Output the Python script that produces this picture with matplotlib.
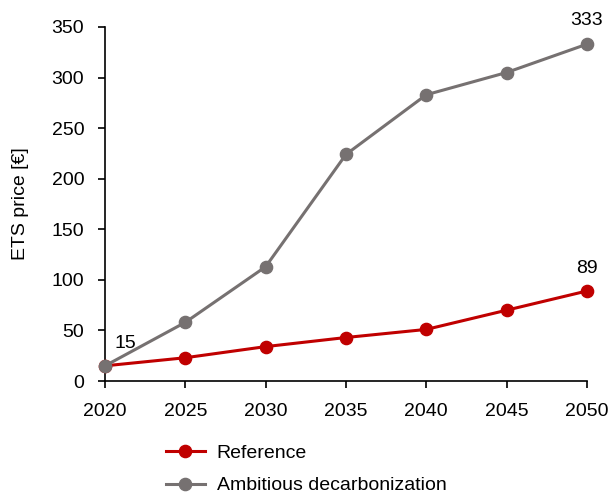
import matplotlib.pyplot as plt

plt.rcParams['font.family'] = ['Liberation Sans', 'DejaVu Sans']

years = [2020, 2025, 2030, 2035, 2040, 2045, 2050]
reference = [15, 23, 34, 43, 51, 70, 89]
ambitious = [15, 58, 113, 224, 283, 305, 333]

fig = plt.figure(figsize=(6.12, 4.97), dpi=100)
ax = fig.add_axes([0.1716, 0.2334, 0.7874, 0.7123])

ax.plot(years, reference, color='#C00000', lw=2.2, marker='o', ms=8.8,
        label='Reference', clip_on=False, zorder=3)
ax.plot(years, ambitious, color='#767171', lw=2.2, marker='o', ms=8.8,
        label='Ambitious decarbonization', clip_on=False, zorder=4)

ax.annotate(str(reference[0]), (years[0], reference[0]), xytext=(7, 13),
            textcoords='offset points', fontsize=14, ha='left', va='baseline')
ax.annotate(str(reference[-1]), (years[-1], reference[-1]), xytext=(0, 13),
            textcoords='offset points', fontsize=14, ha='center', va='baseline')
ax.annotate(str(ambitious[-1]), (years[-1], ambitious[-1]), xytext=(0, 13.5),
            textcoords='offset points', fontsize=14, ha='center', va='baseline')

ax.set_xlim(2020, 2050)
ax.set_ylim(0, 350)
ax.set_xticks(years)
ax.set_yticks(range(0, 351, 50))
ax.tick_params(labelsize=14, length=5, width=1.2, direction='out', colors='black')
ax.tick_params(axis='y', pad=10)
ax.tick_params(axis='x', pad=11)
ax.spines['top'].set_visible(False)
ax.spines['right'].set_visible(False)
ax.spines['left'].set_linewidth(1.2)
ax.spines['bottom'].set_linewidth(1.2)
ax.set_ylabel('ETS price [€]', fontsize=14, labelpad=16)

ax.legend(loc='center left', bbox_to_anchor=(0.2712, 0.0553),
          bbox_transform=fig.transFigure, frameon=False, borderpad=0,
          borderaxespad=0, fontsize=14, handlelength=2.0,
          handletextpad=0.6, labelspacing=0.75)

fig.savefig('out.png', dpi=100)
